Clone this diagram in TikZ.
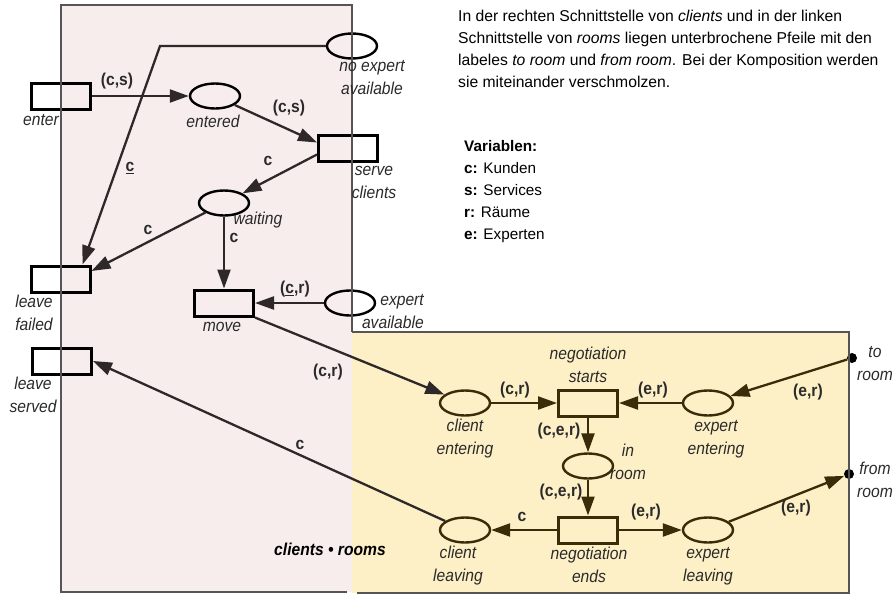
\documentclass[tikz,border=0pt]{standalone}
\usepackage{fontspec}
\setmainfont{Liberation Sans}
\newfontfamily\lblfont[FakeStretch=0.91]{Liberation Sans}
\usetikzlibrary{arrows.meta,shapes.geometric}

\definecolor{pinkbg}{HTML}{F8EDED}
\definecolor{yellowbg}{HTML}{FDF0C6}
\definecolor{framegray}{HTML}{555555}
\definecolor{inkA}{HTML}{2E2828}
\definecolor{inkB}{HTML}{3A2C08}
\definecolor{txt}{HTML}{2A2A2A}

\tikzset{
  place/.style={draw, ellipse, minimum width=50pt, minimum height=25pt, inner sep=0pt, line width=2.4pt},
  trans/.style={draw, rectangle, minimum width=59pt, minimum height=26pt, inner sep=0pt, line width=3pt},
  port/.style={circle, fill=black, minimum size=10pt, inner sep=0pt},
  arc/.style={line width=2.3pt, -{Triangle[length=19pt,width=13pt]}},
  pname/.style={font=\lblfont\itshape\fontsize{17.2}{23}\selectfont, text=txt, align=center, inner sep=0pt},
  insc/.style={font=\lblfont\bfseries\fontsize{17.2}{20}\selectfont, text=txt, inner sep=0pt},
  frame/.style={draw=framegray, line width=1.3pt},
  body/.style={text=black, align=left, inner sep=0pt, anchor=north west}
}

\begin{document}
\begin{tikzpicture}[x=1pt,y=-1pt]
\useasboundingbox (0,0) rectangle (895,595);

% module backgrounds
\fill[pinkbg] (61,5) rectangle (352,592);
\fill[yellowbg] (352,332) rectangle (849,593);

% ---- module clients ----
\begin{scope}[draw=black]
\node[place] (noexp) at (352,46) {};
\node[place] (ent) at (215,96) {};
\node[place] (wait) at (224,203) {};
\node[place] (expav) at (350,303) {};
\node[trans] (enter) at (60.5,96) {};
\node[trans] (serve) at (348,148.5) {};
\node[trans] (lfail) at (60.5,279) {};
\node[trans] (move) at (224,303) {};
\node[trans] (lserv) at (62,361) {};
\end{scope}

% ---- module rooms ----
\begin{scope}[draw=inkB]
\node[place, draw=inkB] (clent) at (465,403) {};
\node[place, draw=inkB] (expent) at (708,403) {};
\node[place, draw=inkB] (inroom) at (588,466) {};
\node[place, draw=inkB] (clleave) at (465,530) {};
\node[place, draw=inkB] (expleave) at (708,530) {};
\node[trans, draw=inkB] (nstart) at (588,403) {};
\node[trans, draw=inkB] (nend) at (588,530) {};
\end{scope}

% interface points
\node[port] (toroom) at (852,358) {};
\node[port] (fromroom) at (849,474) {};

% arcs of clients
\coordinate (bend) at (160,46);
\draw[arc, inkA] (noexp.west) -- (bend) -- ([xshift=22pt]lfail.north);
\draw[arc, inkA] (enter) -- (ent);
\draw[arc, inkA] (ent) -- ([yshift=6pt]serve.west);
\draw[arc, inkA] ([yshift=-6pt]serve.west) -- (wait);
\draw[arc, inkA] (wait) -- ([yshift=8pt]lfail.east);
\draw[arc, inkA] (wait.south) -- (move.north);
\draw[arc, inkA] (expav) -- (move);
\draw[arc, inkA] (move.south east) -- (clent);
\draw[arc, inkA] (clleave) -- (lserv.east);

% arcs of rooms
\draw[arc, inkB] (clent) -- (nstart);
\draw[arc, inkB] (expent) -- (nstart);
\draw[arc, inkB] (toroom) -- (expent);
\draw[arc, inkB] (nstart) -- (inroom);
\draw[arc, inkB] (inroom) -- (nend);
\draw[arc, inkB] (nend) -- (clleave);
\draw[arc, inkB] (nend) -- (expleave);
\draw[arc, inkB] (expleave) -- (fromroom);

% module frames
\draw[frame] (352,332) -- (352,5) -- (61,5) -- (61,592) -- (347,592);
\draw[frame] (352,332) -- (849,332) -- (849,593) -- (357,593);

% names of places and transitions
\node[pname] (l-noexp) at (372,78) {no expert\\available};
\node[pname] (l-ent) at (213,121) {entered};
\node[pname] (l-enter) at (41,120) {enter};
\node[pname] (l-serve) at (374,182) {serve\\clients};
\node[pname] (l-wait) at (258,220) {waiting};
\node[pname] (l-lfail) at (34,313) {leave\\failed};
\node[pname] (l-move) at (222,327) {move};
\node[pname, align=right, anchor=east] (l-expav) at (424,312) {expert\\available};
\node[pname] (l-lserv) at (33,395) {leave\\served};
\node[pname] (l-nstart) at (588,364.5) {negotiation\\starts};
\node[pname] (l-clent) at (465,439) {client\\entering};
\node[pname] (l-expent) at (716,439) {expert\\entering};
\node[pname] (l-inroom) at (628,461.5) {in\\room};
\node[pname] (l-clleave) at (458,566) {client\\leaving};
\node[pname] (l-nend) at (589,564.5) {negotiation\\ends};
\node[pname] (l-expleave) at (708,566) {expert\\leaving};
\node[pname] (l-toroom) at (875,363.5) {to\\room};
\node[pname] (l-fromroom) at (875,479.5) {from\\room};

% arc inscriptions
\node[insc] (i1) at (117,81) {(c,s)};
\node[insc] (i2) at (289,108) {(c,s)};
\node[insc] (i3) at (130,168) {\underline{c}};
\node[insc] (i4) at (268,161) {c};
\node[insc] (i5) at (148,230) {c};
\node[insc] (i6) at (234,238) {c};
\node[insc] (i7) at (295,289) {(\underline{c},r)};
\node[insc] (i8) at (328,372) {(c,r)};
\node[insc] (i9) at (300,445) {c};
\node[insc] (i10) at (515,390) {(c,r)};
\node[insc] (i11) at (653,390) {(e,r)};
\node[insc] (i12) at (808,392) {(e,r)};
\node[insc] (i13) at (559,431) {(c,e,r)};
\node[insc] (i14) at (561,492) {(c,e,r)};
\node[insc] (i15) at (522,517) {c};
\node[insc] (i16) at (646,512) {(e,r)};
\node[insc] (i17) at (796,508) {(e,r)};

\node[font=\lblfont\bfseries\itshape\fontsize{17.2}{20}\selectfont, text=black, inner sep=0pt] (comp) at (330,549) {clients \textbullet\ rooms};

% explanatory text
\node[body, font=\fontsize{15.7}{22}\selectfont] (para) at (458,10) {In der rechten Schnittstelle von \textit{clients} und in der linken\\
Schnittstelle von \textit{rooms} liegen unterbrochene Pfeile mit den\\
labeles \textit{to room} und \textit{from room}. Bei der Komposition werden\\
sie miteinander verschmolzen.};

\node[body, font=\fontsize{15.3}{22}\selectfont] (vars) at (464,140) {\textbf{Variablen:}\\
\textbf{c:} Kunden\\
\textbf{s:} Services\\
\textbf{r:} Räume\\
\textbf{e:} Experten};
\end{tikzpicture}
\end{document}
